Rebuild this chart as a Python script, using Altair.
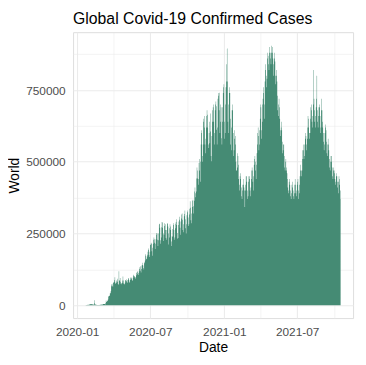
import altair as alt
import pandas as pd

# Daily new confirmed cases worldwide, in thousands
jan20 = [0.6, 0.1, 0.3, 0.5, 0.7, 0.8, 2.6, 0.6, 1.7, 2.0]
feb20 = [2.1, 2.6, 3.0, 3.9, 3.7, 3.2, 3.4, 2.7, 3.0, 2.6, 2.0, 0.4, 17.0, 6.5, 2.1, 2.1, 1.9, 1.8, 0.4, 0.6,
         1.0, 1.0, 0.6, 0.6, 0.9, 0.9, 1.3, 1.4, 1.8]
mar20 = [2.0, 1.9, 2.4, 2.3, 2.8, 3.8, 4.0, 3.9, 4.0, 4.5, 7.4, 2.5, 16.0, 11.0, 12.0, 15.0, 16.0, 20.0, 29.0, 32.0,
         32.0, 34.0, 42.0, 42.0, 49.0, 66.0, 72.0, 75.0, 68.0, 64.0, 78.0]
apr20 = [79, 82, 88, 97, 78, 74, 77, 83, 87, 92, 82, 74, 71, 118, 84, 88, 95, 82, 75, 73,
         77, 78, 86, 100, 86, 76, 72, 74, 78, 86]
may20 = [88, 90, 84, 80, 78, 88, 92, 95, 88, 78, 82, 88, 94, 98, 95, 90, 84, 88, 96, 103,
         106, 100, 101, 96, 92, 98, 104, 112, 116, 118, 108]
jun20 = [112, 105, 118, 126, 132, 136, 120, 114, 126, 138, 140, 148, 138, 130, 124, 146, 150, 156, 178, 172,
         160, 162, 170, 176, 186, 198, 192, 174, 168, 186]
jul20 = [212, 210, 218, 214, 188, 172, 200, 214, 228, 236, 230, 218, 196, 214, 230, 246, 252, 250, 228, 206,
         226, 250, 282, 284, 270, 226, 214, 236, 272, 290, 288]
aug20 = [270, 250, 224, 246, 276, 286, 282, 262, 234, 228, 262, 286, 284, 274, 250, 212, 236, 268, 282, 274,
         262, 222, 206, 240, 266, 239, 286, 280, 262, 228, 236]
sep20 = [268, 284, 290, 300, 280, 252, 232, 234, 280, 292, 308, 298, 270, 246, 292, 302, 316, 320, 298, 262,
         254, 282, 310, 318, 330, 300, 268, 250, 282, 314]
oct20 = [324, 330, 306, 276, 282, 316, 336, 362, 340, 296, 286, 320, 342, 364, 368, 345, 320, 364, 396, 410,
         390, 376, 396, 442, 480, 470, 442, 420, 440, 496, 510]
nov20 = [470, 430, 500, 560, 610, 600, 520, 500, 560, 640, 650, 660, 620, 560, 530, 580, 620, 660, 680, 664,
         620, 560, 548, 600, 640, 565, 668, 606, 520, 502]
dec20 = [590, 640, 680, 690, 700, 640, 560, 600, 680, 700, 710, 694, 612, 560, 620, 720, 740, 730, 680, 741,
         600, 640, 700, 690, 582, 560, 640, 690, 740, 760, 770]
jan21 = [640, 580, 600, 700, 760, 780, 840, 895, 780, 640, 600, 700, 740, 760, 740, 650, 560, 540, 620, 680,
         700, 680, 600, 520, 540, 580, 610, 590, 560, 500, 470]
feb21 = [470, 480, 530, 520, 490, 440, 400, 420, 450, 460, 440, 410, 380, 370, 400, 420, 440, 420, 410, 400,
         342, 400, 420, 450, 450, 430, 400, 370]
mar21 = [380, 430, 450, 450, 440, 400, 380, 410, 440, 470, 480, 470, 430, 400, 450, 490, 510, 520, 500, 470,
         440, 490, 530, 560, 600, 620, 590, 540, 560, 610, 650]
apr21 = [700, 690, 610, 580, 640, 700, 720, 740, 760, 700, 650, 780, 820, 840, 800, 760, 790, 860, 880, 870,
         840, 820, 880, 900, 880, 860, 840, 880, 905, 900]
may21 = [880, 860, 800, 840, 860, 880, 850, 800, 770, 800, 820, 780, 730, 680, 660, 700, 720, 690, 650, 610,
         590, 620, 640, 610, 570, 530, 540, 560, 560, 520, 480]
jun21 = [470, 500, 510, 480, 470, 460, 440, 410, 390, 400, 430, 440, 420, 400, 380, 370, 390, 420, 430, 410,
         400, 380, 370, 390, 420, 440, 420, 390, 380, 400]
jul21 = [420, 430, 440, 400, 370, 390, 420, 450, 470, 490, 470, 450, 470, 510, 540, 560, 540, 510, 520, 560,
         580, 600, 590, 560, 540, 580, 620, 660, 650, 620, 600]
aug21 = [580, 600, 650, 690, 700, 680, 640, 620, 660, 700, 820, 720, 680, 640, 620, 660, 690, 720, 800, 680,
         640, 620, 660, 690, 700, 690, 660, 600, 620, 720, 680]
sep21 = [680, 640, 620, 600, 570, 540, 560, 600, 630, 620, 610, 570, 530, 520, 560, 580, 560, 540, 510, 480,
         470, 500, 520, 520, 500, 480, 450, 440, 470, 480]
oct21 = [470, 460, 440, 420, 430, 450, 460, 450, 430, 410, 390, 430, 450, 440, 420, 400, 370]

cases_k = (jan20 + feb20 + mar20 + apr20 + may20 + jun20 + jul20 + aug20 + sep20 + oct20 + nov20 + dec20
           + jan21 + feb21 + mar21 + apr21 + may21 + jun21 + jul21 + aug21 + sep21 + oct21)
first_day = "2020-01-22"

y_ticks = [0, 125000, 250000, 375000, 500000, 625000, 750000, 875000]
x_ticks = ["2020-01-01", "2020-04-01", "2020-07-01", "2020-10-01", "2021-01-01", "2021-04-01",
           "2021-07-01", "2021-10-01"]

dates = pd.date_range(first_day, periods=len(cases_k), freq="D")
df = pd.DataFrame({"Date": dates.strftime("%Y-%m-%d"), "World": [v * 1000 for v in cases_k]})


def dt(s):
    y, m, d = (int(p) for p in s.split("-"))
    return alt.DateTime(year=y, month=m, date=d, utc=True)


font = "Liberation Sans"

chart = alt.Chart(df).mark_area(interpolate="step", color="#458B74").encode(
    x=alt.X(
        "Date:T",
        title="Date",
        scale=alt.Scale(type="utc", domain=[dt("2019-12-22"), dt("2021-11-17")], nice=False),
        axis=alt.Axis(
            values=[dt(s) for s in x_ticks],
            labelExpr="utcmonth(datum.value) % 6 == 0 ? utcFormat(datum.value, '%Y-%m') : ''",
            grid=True,
            gridColor="#EBEBEB",
            gridWidth={"condition": {"test": "utcmonth(datum.value) % 6 == 0", "value": 1.1}, "value": 0.55},
            ticks=False,
            domain=False,
            labelPadding=9,
            labelFontSize=12,
            labelColor="#4D4D4D",
            labelFont=font,
            titleFont=font,
            titleFontSize=14,
            titleFontWeight="normal",
            titleColor="#000000",
            titlePadding=3,
        ),
    ),
    y=alt.Y(
        "World:Q",
        title="World",
        scale=alt.Scale(domain=[-45000, 952000], nice=False, zero=False),
        axis=alt.Axis(
            values=y_ticks,
            format="d",
            labelExpr="datum.value % 250000 == 0 ? datum.label : ''",
            grid=True,
            gridColor="#EBEBEB",
            gridWidth={"condition": {"test": "datum.value % 250000 == 0", "value": 1.1}, "value": 0.55},
            ticks=False,
            domain=False,
            labelPadding=8,
            labelFontSize=12,
            labelColor="#4D4D4D",
            labelFont=font,
            titleFont=font,
            titleFontSize=14,
            titleFontWeight="normal",
            titleColor="#000000",
            titlePadding=4,
        ),
    ),
).properties(
    width=284,
    height=290,
    title=alt.TitleParams(
        "Global Covid-19 Confirmed Cases",
        anchor="start",
        frame="group",
        font=font,
        fontSize=16,
        fontWeight="normal",
        color="#000000",
        offset=5,
    ),
    autosize=alt.AutoSizeParams(type="none"),
    padding={"left": 66, "top": 22, "right": 5, "bottom": 40},
).configure_view(stroke=None).configure(background="white")

chart.save("out.html", embed_options={"renderer": "svg", "actions": False})
